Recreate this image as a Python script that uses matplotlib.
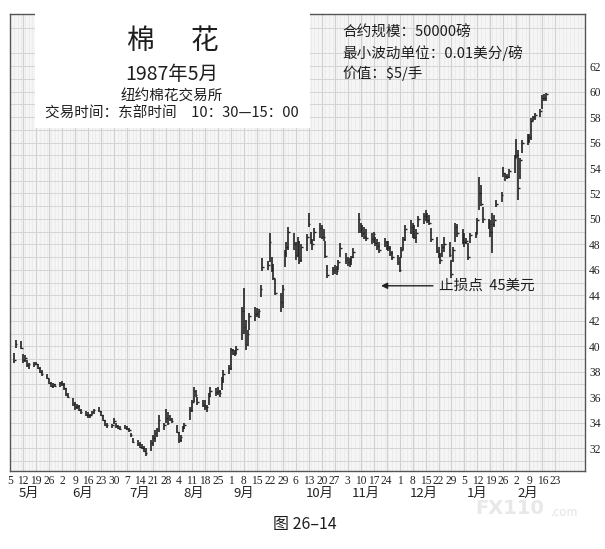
import matplotlib
matplotlib.use("Agg")
import matplotlib.pyplot as plt
import matplotlib.dates as mdates
from matplotlib.patches import Rectangle
import numpy as np
import pandas as pd
import datetime as dt

plt.rcParams['font.family'] = ['Noto Sans CJK SC', 'DejaVu Sans']

# ---------------- data (daily high / low / close, from 1987-05-07) ----------------
highs = [
    39.5, 40.5, 40.4,
    39.4, 39.3, 38.9, 38.7, 38.8,
    38.8, 38.6, 38.4, 38.1, 37.8,
    37.4, 37.2, 37.1, 37.0, 37.2,
    37.3, 37.1, 36.7, 36.3, 35.9,
    35.6, 35.5, 35.4, 35.1, 34.9,
    34.8, 34.7, 34.9, 35.1, 35.2,
    34.9, 34.6, 34.2, 34.0, 33.9,
    34.4, 34.0, 33.8, 33.7, 33.8,
    33.7, 33.6, 33.2, 32.8, 32.6,
    32.5, 32.3, 32.2, 32.0, 32.6,
    33.0, 33.4, 33.6, 34.6, 34.0,
    35.1, 34.8, 34.6, 34.4, 33.8,
    33.3, 33.0, 33.7, 34.0, 35.2,
    35.8, 36.8, 36.6, 36.0, 35.8,
    35.8, 35.4, 36.3, 36.8, 36.7,
    36.8, 36.6, 37.6, 38.1, 38.5,
    39.9, 39.8, 39.7, 40.0, 43.1,
    44.6, 42.1, 41.3, 42.6, 43.1,
    43.0, 42.9, 44.8, 46.9, 46.7,
    48.9, 47.0, 46.5, 45.3, 44.2,
    44.8, 47.6, 48.2, 49.4, 48.9,
    48.2, 48.6, 48.3, 48.0, 48.8,
    50.5, 49.0, 48.4, 49.3, 49.7,
    49.5, 49.2, 48.3, 46.4, 46.2,
    46.4, 46.3, 46.8, 48.1, 47.3,
    47.0, 46.9, 47.1, 47.7, 50.5,
    49.7, 49.5, 49.4, 49.2, 48.9,
    49.0, 48.6, 48.4, 48.2, 48.5,
    48.3, 48.3, 47.9, 47.5, 47.2,
    47.0, 47.8, 48.6, 49.5, 49.9,
    49.7, 49.5, 49.2, 50.2, 50.5,
    50.7, 50.5, 50.3, 49.3, 48.6,
    47.8, 47.3, 48.0, 48.6, 48.2,
    46.8, 47.8, 49.7, 49.6, 49.2,
    48.9, 48.5, 48.1, 48.9, 49.0,
    50.1, 53.3, 52.7, 50.9, 50.0,
    49.9, 50.5, 50.3, 51.5, 52.1,
    54.1, 53.6, 53.5, 53.9, 55.0,
    56.3, 55.4, 54.8, 56.2, 56.7,
    56.7, 57.9, 58.1, 58.3, 58.6,
    59.7, 59.8, 59.9,
]
lows = [
    38.7, 39.9, 39.8,
    38.7, 38.8, 38.4, 38.2, 38.4,
    38.5, 38.2, 37.9, 37.7, 37.4,
    37.0, 36.8, 36.7, 36.8, 36.8,
    36.9, 36.6, 36.1, 35.9, 35.3,
    35.0, 35.1, 34.9, 34.7, 34.5,
    34.4, 34.4, 34.6, 34.7, 34.8,
    34.5, 34.1, 33.7, 33.6, 33.6,
    33.9, 33.6, 33.5, 33.4, 33.5,
    33.4, 33.3, 32.9, 32.4, 32.2,
    32.0, 31.9, 31.7, 31.4, 31.8,
    32.2, 32.5, 32.9, 33.3, 33.4,
    34.0, 33.8, 34.1, 34.0, 33.2,
    32.4, 32.5, 33.3, 33.5, 34.2,
    34.8, 35.6, 36.0, 35.4, 35.2,
    35.0, 34.8, 35.4, 36.0, 36.1,
    36.2, 36.0, 36.6, 37.1, 37.8,
    38.1, 39.3, 39.2, 39.4, 40.5,
    41.0, 39.7, 40.0, 41.3, 42.0,
    42.3, 42.2, 43.9, 45.9, 46.0,
    46.6, 45.8, 45.2, 44.0, 42.7,
    43.0, 46.2, 47.0, 47.6, 47.6,
    46.8, 47.0, 46.5, 46.6, 47.5,
    49.4, 48.0, 47.6, 48.3, 48.5,
    48.4, 48.3, 46.9, 45.4, 45.6,
    45.7, 45.6, 46.0, 47.0, 46.5,
    46.3, 46.2, 46.4, 46.9, 48.9,
    48.9, 48.6, 48.4, 48.3, 48.0,
    48.1, 47.9, 47.6, 47.3, 47.8,
    47.6, 47.5, 47.1, 46.8, 46.4,
    45.8, 46.9, 47.6, 48.3, 48.8,
    48.5, 48.4, 48.1, 49.4, 49.6,
    49.8, 49.7, 49.5, 48.2, 47.3,
    46.9, 46.5, 47.0, 47.4, 47.0,
    45.4, 46.6, 48.2, 48.6, 48.0,
    47.8, 48.0, 46.8, 48.1, 48.5,
    48.8, 50.7, 51.0, 49.7, 49.2,
    48.6, 47.3, 49.4, 50.9, 51.3,
    53.3, 53.0, 53.1, 53.2, 53.6,
    54.8, 51.5, 53.1, 55.2, 55.8,
    56.0, 56.2, 57.7, 57.8, 58.0,
    58.6, 59.3, 59.3,
]
closes = [
    38.9, 40.2, 39.9,
    38.9, 39.1, 38.5, 38.6, 38.6,
    38.6, 38.3, 38.0, 37.8, 37.5,
    37.1, 36.9, 37.0, 36.9, 37.1,
    37.0, 36.7, 36.2, 36.0, 35.5,
    35.2, 35.3, 35.0, 34.8, 34.6,
    34.6, 34.6, 34.8, 35.0, 34.9,
    34.6, 34.2, 33.8, 33.8, 33.8,
    34.1, 33.7, 33.6, 33.5, 33.6,
    33.5, 33.4, 33.0, 32.5, 32.3,
    32.1, 32.0, 31.8, 31.6, 32.4,
    32.8, 33.2, 33.5, 34.2, 33.8,
    34.4, 34.0, 34.3, 34.1, 33.3,
    32.6, 32.9, 33.6, 33.8, 35.0,
    35.6, 36.5, 36.2, 35.6, 35.4,
    35.2, 35.2, 36.1, 36.5, 36.4,
    36.5, 36.3, 37.4, 37.8, 38.3,
    39.7, 39.5, 39.4, 39.8, 42.8,
    41.5, 40.2, 41.0, 42.4, 42.5,
    42.6, 42.8, 44.5, 46.2, 46.4,
    48.2, 46.1, 45.4, 44.2, 43.5,
    44.5, 47.3, 47.8, 49.0, 48.0,
    47.2, 48.2, 46.8, 47.8, 48.6,
    49.6, 48.3, 48.0, 49.0, 49.3,
    48.6, 48.6, 47.1, 45.6, 46.0,
    46.1, 45.9, 46.6, 47.7, 46.8,
    46.6, 46.8, 47.0, 47.4, 50.0,
    49.3, 48.9, 48.6, 48.5, 48.4,
    48.8, 48.1, 47.9, 47.6, 48.2,
    47.8, 47.7, 47.3, 47.0, 46.6,
    46.0, 47.6, 48.4, 49.2, 49.4,
    48.8, 48.6, 48.9, 50.0, 50.2,
    50.2, 49.9, 49.7, 48.4, 47.5,
    47.2, 46.8, 47.8, 48.0, 47.2,
    45.7, 47.6, 49.4, 48.9, 48.3,
    48.2, 48.3, 47.0, 48.7, 48.8,
    49.9, 52.0, 51.2, 50.0, 49.6,
    49.0, 49.6, 49.9, 51.2, 51.9,
    53.6, 53.4, 53.3, 53.8, 54.8,
    55.0, 52.4, 54.6, 56.0, 56.2,
    56.4, 57.7, 58.0, 58.2, 58.5,
    59.5, 59.5, 59.8,
]
first_date = "1987-05-07"

tick_day_labels = [5, 12, 19, 26, 2, 9, 16, 23, 30, 7, 14, 21, 28, 4, 11, 18, 25,
                   1, 8, 15, 22, 29, 6, 13, 20, 27, 3, 10, 17, 24, 1, 8, 15, 22, 29,
                   5, 12, 19, 26, 2, 9, 16, 23]
month_labels = ["5月", "6月", "7月", "8月", "9月", "10月", "11月", "12月", "1月", "2月"]
price_ticks = [32, 34, 36, 38, 40, 42, 44, 46, 48, 50, 52, 54, 56, 58, 60, 62]
stop_price = 45

# ---------------- figure ----------------
W, H = 605, 549
fig = plt.figure(figsize=(W / 100, H / 100), dpi=100)
fig.patch.set_facecolor("white")

L, R, T, B = 10, 585, 14, 471
ax = fig.add_axes([L / W, 1 - B / H, (R - L) / W, (B - T) / H])
ax.set_facecolor("#f5f5f5")

dates = pd.bdate_range(first_date, periods=len(highs))
x = mdates.date2num(dates.to_pydatetime())

ink = "#222222"
ax.vlines(x, lows, highs, color=ink, lw=1.2, zorder=3)
ax.hlines(closes, x, x + 0.9, color=ink, lw=1.0, zorder=3)

# x axis
tick_dates = pd.date_range("1987-05-05", periods=len(tick_day_labels), freq="W-TUE")
tx = mdates.date2num(tick_dates.to_pydatetime())
x0 = mdates.date2num(dt.datetime(1987, 5, 5))
ax.set_xlim(x0 - 0.1, x0 + 306.3)
ax.set_xticks(tx)
ax.set_xticklabels([str(d) for d in tick_day_labels],
                   fontfamily="Liberation Serif", fontsize=8.3, color="#222")
ax.set_xticks(mdates.date2num(pd.date_range("1987-05-05", "1988-03-10", freq="2D").to_pydatetime()), minor=True)

# y axis
ax.set_ylim(30.2, 66.1)
ax.yaxis.tick_right()
ax.set_yticks(price_ticks)
ax.set_yticklabels([str(p) for p in price_ticks],
                   fontfamily="Liberation Serif", fontsize=8.3, color="#222")
ax.set_yticks(np.arange(31, 66.1, 2.0), minor=True)

ax.tick_params(axis="both", which="both", length=0)
ax.tick_params(axis="x", pad=3)
ax.tick_params(axis="y", pad=3)

ax.grid(True, which="major", axis="x", color="#d0d0d0", lw=0.8, zorder=0)
ax.grid(True, which="minor", axis="x", color="#e6e6e6", lw=0.4, zorder=0)
ax.grid(True, which="major", axis="y", color="#d4d4d4", lw=0.7, zorder=0)
ax.grid(True, which="minor", axis="y", color="#d4d4d4", lw=0.7, zorder=0)
ax.set_axisbelow(True)
for s in ax.spines.values():
    s.set_color("#555")
    s.set_linewidth(1.0)

# month labels below the day ticks
month_label_dates = ["1987-05-15", "1987-06-13", "1987-07-14", "1987-08-12",
                     "1987-09-08", "1987-10-19", "1987-11-13", "1987-12-14",
                     "1988-01-12", "1988-02-08"]
for lab, md in zip(month_labels, month_label_dates):
    mx = mdates.date2num(pd.Timestamp(md).to_pydatetime())
    ax.annotate(lab, xy=(mx, 0), xycoords=("data", "axes fraction"),
                xytext=(0, -16.5), textcoords="offset points",
                ha="center", va="center", fontsize=9.5, color="#222",
                annotation_clip=False)

# white title box covering grid
fig.patches.append(Rectangle((35 / W, 1 - 128 / H), (310 - 35) / W, (128 - 10) / H,
                             transform=fig.transFigure, facecolor="white",
                             edgecolor="none", zorder=5))

def ftext(px, py, s, color="#1e1e1e", **kw):
    fig.text(px / W, 1 - py / H, s, zorder=6, color=color, **kw)

ftext(140, 41, "棉", fontsize=20, ha="center", va="center")
ftext(205, 41, "花", fontsize=20, ha="center", va="center")
ftext(172, 75, "1987年5月", fontsize=14, ha="center", va="center")
ftext(172, 97, "纽约棉花交易所", fontsize=10.5, ha="center", va="center")
ftext(172, 114, "交易时间：东部时间　10：30—15：00", fontsize=10.5, ha="center", va="center")

ftext(342, 33, "合约规模：50000磅", fontsize=10.5, ha="left", va="center")
ftext(342, 53, "最小波动单位：0.01美分/磅", fontsize=10.5, ha="left", va="center")
ftext(342, 73, "价值：$5/手", fontsize=10.5, ha="left", va="center")

# stop-loss arrow
ax.annotate("", xy=(mdates.date2num(dt.datetime(1987, 11, 21)), 44.75),
            xytext=(mdates.date2num(dt.datetime(1987, 12, 19)), 44.75),
            arrowprops=dict(arrowstyle="-|>", color="#222", lw=1.0,
                            mutation_scale=9, shrinkA=0, shrinkB=0), zorder=6)
ax.annotate(f"止损点  {stop_price}美元",
            xy=(mdates.date2num(dt.datetime(1987, 12, 22)), 44.75),
            ha="left", va="center", fontsize=10.5, color="#1e1e1e", zorder=6)

# caption and watermark
ftext(305, 524, "图 26–14", fontsize=11.5, ha="center", va="center")
ftext(510, 509, "FX110", color="#e8e8e8", fontsize=14, ha="center", va="center",
      fontweight="bold", fontfamily="DejaVu Sans")
ftext(550, 513, ".com", color="#e4e4e4", fontsize=8.5, ha="left", va="center")

fig.savefig("out.png", dpi=100)
